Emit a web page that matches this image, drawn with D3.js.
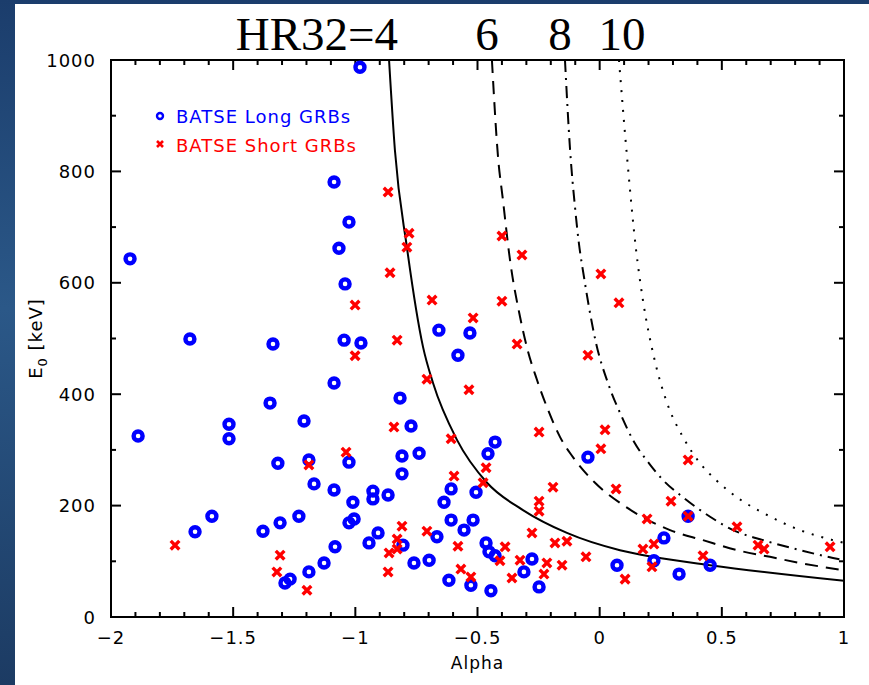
<!DOCTYPE html>
<html>
<head>
<meta charset="utf-8">
<script src="https://cdn.jsdelivr.net/npm/d3@7"></script>
<style>
  html, body { margin: 0; padding: 0; background: #ffffff; }
  svg { display: block; }
</style>
</head>
<body>
<script>
// ---- Axis ticks ----
const xMajorTicks = [-2, -1.5, -1, -0.5, 0, 0.5, 1];
const yMajorTicks = [0, 200, 400, 600, 800, 1000];

// ---- BATSE long bursts: spectral index and cutoff energy (keV) ----
const longAlpha = [-0.981, -1.087, -1.026, -1.067, -1.042, -1.922, -1.677, -1.337, -1.046, -0.977,
  -1.087, -0.817, -1.349, -1.517, -1.517, -1.889, -1.210, -1.317, -1.190, -1.026,
  -1.169, -1.087, -1.010, -0.928, -0.928, -0.866, -1.587, -1.656, -1.378, -1.308,
  -1.231, -1.026, -1.005, -1.083, -0.944, -0.907, -1.288, -1.267, -1.190, -1.128,
  -0.658, -0.531, -0.580, -0.772, -0.428, -0.457, -0.809, -0.739, -0.048, -0.809,
  -0.608, -0.506, -0.637, -0.608, -0.518, -0.555, -0.666, -0.805, -0.465, -0.453,
  -0.428, -0.277, 0.071, -0.760, -0.698, -0.617, -0.527, -0.445, -0.310, -0.248,
  0.362, 0.263, 0.222, 0.452, 0.325];
const longE0 = [987, 781, 709, 662, 598, 643, 499, 490, 497, 492,
  420, 393, 384, 346, 320, 325, 352, 276, 282, 278,
  239, 228, 206, 226, 212, 219, 181, 153, 154, 169,
  181, 169, 176, 126, 133, 151, 61, 68, 81, 97,
  515, 510, 470, 343, 314, 293, 289, 294, 287, 257,
  230, 224, 206, 174, 174, 156, 144, 129, 133, 117,
  110, 104, 93, 97, 102, 66, 57, 47, 81, 54,
  181, 142, 101, 93, 77];

// ---- BATSE short bursts ----
const shortAlpha = [-0.866, -0.858, -1.001, -1.001, -0.829, -0.842, -1.038, -1.190, -1.738, -1.308,
  -1.321, -1.198, -0.862, -0.866, -0.780, -0.789, -0.686, -0.518, -0.400, -0.318,
  -0.400, -0.338, 0.005, 0.079, -0.048, -0.707, -0.535, -0.248, 0.022, -0.608,
  0.005, -0.465, -0.596, -0.477, -0.191, 0.067, -0.248, -0.248, -0.809, -0.707,
  -0.277, -0.183, -0.134, -0.829, -0.829, -0.387, -0.580, -0.408, -0.326, -0.216,
  -0.154, -0.056, 0.104, -0.568, -0.527, -0.359, -0.228, 0.362, 0.292, 0.362,
  0.194, 0.562, 0.648, 0.673, 0.943, 0.177, 0.222, 0.214, 0.423];
const shortE0 = [763, 618, 560, 469, 497, 341, 296, 273, 129, 111,
  81, 48, 115, 81, 689, 664, 569, 537, 684, 650,
  567, 490, 616, 564, 470, 427, 408, 332, 336, 320,
  302, 268, 253, 241, 233, 230, 208, 190, 163, 154,
  151, 133, 136, 140, 122, 126, 127, 101, 102, 97,
  93, 108, 68, 86, 72, 70, 77, 282, 208, 181,
  176, 162, 129, 122, 126, 122, 131, 90, 110];

// ---- Constant hardness-ratio (HR32) contours ----
const hr4Alpha = [-0.862, -0.838, -0.789, -0.723, -0.682, -0.584, -0.461, -0.314, -0.134, 0.083, 0.218, 0.452, 1.0];
const hr4E0 = [1000, 838, 664, 485, 420, 318, 241, 192, 151, 120, 108, 93, 65];

const hr6Alpha = [-0.441, -0.416, -0.396, -0.367, -0.326, -0.297, -0.256, -0.216, -0.162, -0.101, -0.019, 0.096, 0.288, 0.423, 0.562, 0.697, 0.820, 1.0];
const hr6E0 = [1000, 826, 749, 641, 539, 483, 425, 377, 323, 282, 241, 201, 156, 138, 120, 108, 97, 84];

const hr8Alpha = [-0.142, -0.121, -0.101, -0.085, -0.064, -0.044, -0.015, 0.034, 0.091, 0.141, 0.202, 0.259, 0.341, 0.452, 0.546, 0.669, 0.820, 0.955, 1.0];
const hr8E0 = [1000, 838, 736, 671, 610, 557, 492, 420, 359, 314, 276, 246, 215, 180, 156, 138, 120, 106, 102];

const hr10Alpha = [0.079, 0.112, 0.149, 0.177, 0.222, 0.276, 0.341, 0.411, 0.476, 0.578, 0.669, 0.820, 0.955, 1.0];
const hr10E0 = [1000, 826, 659, 569, 467, 384, 323, 276, 246, 210, 187, 156, 138, 133];

const legendLabels = ["BATSE Long GRBs", "BATSE Short GRBs"];

// ---- Layout ----
const W = 869, H = 685;
const plot = { left: 111, right: 844, top: 60, bottom: 617 };

const svg = d3.select("body").append("svg")
  .attr("width", W).attr("height", H)
  .attr("viewBox", `0 0 ${W} ${H}`);

const defs = svg.append("defs");
const grad = defs.append("linearGradient").attr("id", "bg")
  .attr("x1", 0).attr("y1", 0).attr("x2", 0).attr("y2", 1);
grad.append("stop").attr("offset", "0%").attr("stop-color", "#1b3d6c");
grad.append("stop").attr("offset", "45%").attr("stop-color", "#2b5888");
grad.append("stop").attr("offset", "100%").attr("stop-color", "#1c3b63");

defs.append("clipPath").attr("id", "plotClip")
  .append("rect")
  .attr("x", plot.left).attr("y", plot.top)
  .attr("width", plot.right - plot.left).attr("height", plot.bottom - plot.top);

// Slide background and the white page
svg.append("rect").attr("width", W).attr("height", H).attr("fill", "url(#bg)");
svg.append("rect").attr("x", 15).attr("y", 4).attr("width", W - 15).attr("height", H - 4).attr("fill", "#ffffff");

const x = d3.scaleLinear().domain([-2, 1]).range([plot.left, plot.right]);
const y = d3.scaleLinear().domain([0, 1000]).range([plot.bottom, plot.top]);

const labelFont = "'DejaVu Sans', Verdana, sans-serif";

// ---- Ticks on all four sides (pointing inward) ----
const xMinor = d3.range(-20, 11).map(i => i / 10).filter(v => !xMajorTicks.some(m => Math.abs(m - v) < 1e-9));
const yMinor = d3.range(0, 1001, 100).filter(v => !yMajorTicks.includes(v));

const tickG = svg.append("g").attr("stroke", "#000").attr("stroke-width", 2);
function xTicks(vals, len) {
  vals.forEach(v => {
    tickG.append("line").attr("x1", x(v)).attr("x2", x(v)).attr("y1", plot.bottom).attr("y2", plot.bottom - len);
    tickG.append("line").attr("x1", x(v)).attr("x2", x(v)).attr("y1", plot.top).attr("y2", plot.top + len);
  });
}
function yTicks(vals, len) {
  vals.forEach(v => {
    tickG.append("line").attr("y1", y(v)).attr("y2", y(v)).attr("x1", plot.left).attr("x2", plot.left + len);
    tickG.append("line").attr("y1", y(v)).attr("y2", y(v)).attr("x1", plot.right).attr("x2", plot.right - len);
  });
}
xTicks(xMajorTicks, 10); xTicks(xMinor, 5);
yTicks(yMajorTicks, 10); yTicks(yMinor, 5);

// Frame
svg.append("rect")
  .attr("x", plot.left).attr("y", plot.top)
  .attr("width", plot.right - plot.left).attr("height", plot.bottom - plot.top)
  .attr("fill", "none").attr("stroke", "#000").attr("stroke-width", 2);

// Tick labels
const fmt = v => (v < 0 ? "\u2212" : "") + String(Math.abs(v));
svg.append("g").selectAll("text").data(xMajorTicks).join("text")
  .attr("x", d => x(d)).attr("y", 644)
  .attr("text-anchor", "middle")
  .attr("font-family", labelFont).attr("font-size", 18).attr("letter-spacing", 1)
  .attr("fill", "#000").text(fmt);
svg.append("g").selectAll("text").data(yMajorTicks).join("text")
  .attr("x", 96).attr("y", d => y(d) + 6.5)
  .attr("text-anchor", "end")
  .attr("font-family", labelFont).attr("font-size", 18).attr("letter-spacing", 1)
  .attr("fill", "#000").text(d => String(d));

// Axis titles
svg.append("text")
  .attr("x", (plot.left + plot.right) / 2).attr("y", 669)
  .attr("text-anchor", "middle")
  .attr("font-family", labelFont).attr("font-size", 17).attr("letter-spacing", 1)
  .attr("fill", "#000").text("Alpha");

const yTitle = svg.append("text")
  .attr("transform", `translate(42,${(plot.top + plot.bottom) / 2}) rotate(-90)`)
  .attr("text-anchor", "middle")
  .attr("font-family", labelFont).attr("font-size", 18).attr("letter-spacing", 1)
  .attr("fill", "#000");
yTitle.append("tspan").text("E");
yTitle.append("tspan").attr("font-size", 13).attr("dy", 5).text("0");
yTitle.append("tspan").attr("dy", -5).text(" [keV]");

// ---- Hardness-ratio contours ----
const contours = [
  { a: hr4Alpha, e: hr4E0, dash: null },
  { a: hr6Alpha, e: hr6E0, dash: "13,8" },
  { a: hr8Alpha, e: hr8E0, dash: "12,6,2,6" },
  { a: hr10Alpha, e: hr10E0, dash: "2,8" }
];
const line = d3.line().x(d => x(d[0])).y(d => y(d[1])).curve(d3.curveMonotoneX);
const curveG = svg.append("g").attr("clip-path", "url(#plotClip)");
contours.forEach(c => {
  curveG.append("path")
    .datum(c.a.map((a, i) => [a, c.e[i]]))
    .attr("d", line)
    .attr("fill", "none").attr("stroke", "#000").attr("stroke-width", 2)
    .attr("stroke-dasharray", c.dash);
});

// ---- Data points ----
const pts = svg.append("g").attr("clip-path", "url(#plotClip)");
pts.selectAll("circle").data(longAlpha.map((a, i) => [a, longE0[i]])).join("circle")
  .attr("cx", d => x(d[0])).attr("cy", d => y(d[1])).attr("r", 4.5)
  .attr("fill", "none").attr("stroke", "#0000ff").attr("stroke-width", 4.4);

const cross = s => `M${-s},${-s}L${s},${s}M${-s},${s}L${s},${-s}`;
pts.selectAll("path.x").data(shortAlpha.map((a, i) => [a, shortE0[i]])).join("path")
  .attr("class", "x")
  .attr("transform", d => `translate(${x(d[0])},${y(d[1])})`)
  .attr("d", cross(4.3)).attr("stroke", "#ff0000").attr("stroke-width", 3.4).attr("fill", "none");

// ---- Legend ----
const lg = svg.append("g");
lg.append("circle").attr("cx", 160).attr("cy", 116).attr("r", 3)
  .attr("fill", "none").attr("stroke", "#0000ff").attr("stroke-width", 2.4);
lg.append("path").attr("transform", "translate(160,144)").attr("d", cross(3))
  .attr("stroke", "#ff0000").attr("stroke-width", 2.6);
lg.selectAll("text").data(legendLabels).join("text")
  .attr("x", 176).attr("y", (d, i) => 123 + i * 29)
  .attr("font-family", labelFont).attr("font-size", 18).attr("letter-spacing", 1)
  .attr("fill", (d, i) => i === 0 ? "#0000ff" : "#ff0000")
  .text(d => d);

// ---- Contour labels along the top ----
const serif = "'Liberation Serif', 'Times New Roman', serif";
const titleG = svg.append("g").attr("font-family", serif).attr("font-size", 47).attr("fill", "#000");
titleG.append("text").attr("x", 398).attr("y", 50).attr("text-anchor", "end").text("HR32=4");
titleG.append("text").attr("x", 487).attr("y", 50).attr("text-anchor", "middle").text("6");
titleG.append("text").attr("x", 560).attr("y", 50).attr("text-anchor", "middle").text("8");
titleG.append("text").attr("x", 622).attr("y", 50).attr("text-anchor", "middle").text("10");
</script>
</body>
</html>
